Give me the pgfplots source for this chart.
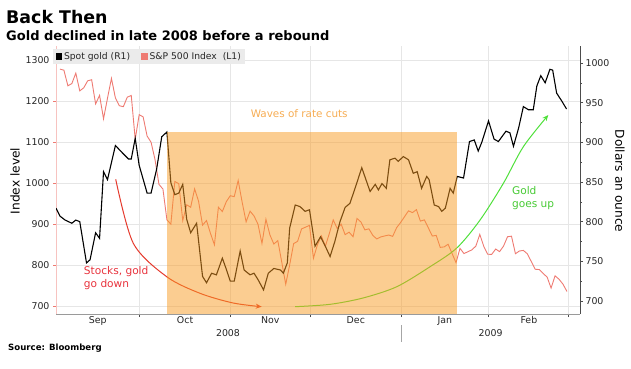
\documentclass[border=0pt]{standalone}
\usepackage{pgfplots}
\pgfplotsset{compat=1.18}
\usetikzlibrary{arrows.meta}
\usepackage{fontspec}
\setmainfont{DejaVu Sans}
\definecolor{spx}{HTML}{EE7A72}
\definecolor{boxor}{HTML}{F89B23}
\definecolor{wavetxt}{HTML}{F6AC52}
\definecolor{redtxt}{HTML}{E8323C}
\definecolor{redarr}{HTML}{E5392C}
\definecolor{grn}{HTML}{4FE03A}
\definecolor{gridc}{HTML}{E6E6E6}
\definecolor{axc}{HTML}{9A9A9A}

\pgfplotstableread{
x y
1 1277.58
2 1274.98
3 1236.83
4 1242.31
5 1267.79
6 1224.51
7 1232.04
8 1249.05
9 1251.70
10 1192.70
11 1213.60
12 1156.39
13 1206.51
14 1255.08
15 1207.09
16 1188.22
17 1185.87
18 1209.18
19 1213.27
20 1106.39
21 1166.36
22 1161.06
23 1114.28
24 1099.23
25 1056.89
26 996.23
27 984.94
28 909.92
29 899.22
30 1003.35
31 998.01
32 907.84
33 946.43
34 940.55
35 985.40
36 955.05
37 896.78
38 908.11
39 876.77
40 848.92
41 940.51
42 930.09
43 954.09
44 968.75
45 966.30
46 1005.75
47 952.77
48 904.88
49 930.99
50 919.21
51 898.95
52 852.30
53 911.29
54 873.29
55 850.75
56 859.12
57 806.58
58 752.44
59 800.03
60 851.81
61 857.39
62 887.68
64 896.24
65 816.21
66 848.81
67 870.74
68 845.22
69 876.07
70 909.70
71 888.67
72 899.24
73 873.59
74 879.73
75 868.57
76 913.18
77 904.42
78 885.28
79 887.88
80 871.63
81 863.16
82 868.15
84 872.80
85 869.42
86 890.64
87 903.25
89 931.80
90 927.45
91 934.70
92 906.65
93 909.73
94 890.35
95 870.26
96 871.79
97 842.62
98 843.74
99 850.12
101 805.22
102 840.24
103 827.50
104 831.95
105 836.57
106 845.71
107 874.09
108 845.14
109 825.88
110 825.44
111 838.51
112 832.23
113 845.85
114 868.60
115 869.89
116 827.16
117 833.74
118 835.19
119 826.84
121 789.17
122 788.42
123 778.94
124 770.05
125 743.33
126 773.14
127 764.90
128 752.83
129 735.09
}\spxtable

\pgfplotstableread{
x y
0 817
1 807
2.3 802
4 798
5 802
6 800
7.7 748
8.6 752
10 786
11 779
12 863
13 853
15 896
16.7 887
18.3 879
19 879
20 905
21 871
23 836
24 836
25.4 866
26.7 907
28 913
29 849
30 834
31 836
32 847
33 803
34 786
35.5 798
37 731
38 723
39.3 735
40.5 733
42 754
43 740
44 725
45 725
46.5 763
47.5 739
49 733
50 735
51 727
52.4 714
53.6 735
55 741
56.7 739
57.4 735
58.4 748
59 792
60.4 821
61.6 819
62.9 813
64 815
65.4 769
66.8 781
68 769
69.2 756
70.4 775
71.7 800
73 818
74.2 823
75.5 842
77.2 868
79.3 838
80.6 847
81.4 840
82.3 848
83.4 842
84.3 878
85.6 880
86.4 876
87.7 882
89 878
90.2 861
91.2 863
92.3 842
93.6 857
94.2 853
95.5 821
96.6 819
97.4 813
98.3 817
99.5 842
100.3 836
101.3 857
102.9 855
104.4 901
105.6 903
106.6 889
107.5 900
109.2 927
110.6 904
111.7 901
113.6 914
114.6 912
115.5 895
116.8 918
118 945
119.3 941
120.5 941
121.4 971
122.4 984
123.5 975
124.7 992
125.4 991
126.4 962
127.7 952
128.9 942
}\goldtable

\begin{document}
\begin{tikzpicture}[x=1pt,y=1pt]
\useasboundingbox (0,0) rectangle (631,368);
\node[anchor=base west,inner sep=0pt,font=\bfseries\fontsize{17.4}{20}\selectfont] at (6,344.5) {Back Then};
\node[anchor=base west,inner sep=0pt,font=\bfseries\fontsize{13}{15}\selectfont] at (6,327.5) {Gold declined in late 2008 before a rebound};
\node[anchor=base west,inner sep=0pt,font=\bfseries\fontsize{8.6}{10}\selectfont] at (8,18) {Source: Bloomberg};

% left axis: S&P 500
\begin{axis}[
  at={(56pt,54pt)}, anchor=south west, scale only axis,
  width=524pt, height=268pt,
  xmin=0, xmax=132.3, ymin=680, ymax=1334,
  axis x line*=bottom, axis y line*=left,
  x axis line style={axc},
  y axis line style={spx!45},
  ytick={700,800,...,1300},
  yticklabel style={font=\fontsize{9.4}{11}\selectfont, text=black!85},
  /pgf/number format/1000 sep={},
  /pgf/number format/assume math mode=true,
  xtick={21.04,43.9,64.3,87.1,109.1,129.3},
  xticklabels={},
  extra x ticks={10.56,32.6,54.1,75.7,98.2,119.4},
  extra x tick labels={Sep,Oct,Nov,Dec,Jan,Feb},
  extra x tick style={major tick length=0pt, grid=none,
     xticklabel style={font=\fontsize{9.4}{11}\selectfont, text=black!85, yshift=1pt}},
  xmajorgrids, ymajorgrids,
  grid style={gridc, line width=0.5pt},
  tick align=outside, major tick length=3pt,
  y tick style={spx, line width=0.5pt},
  x tick style={black!70, line width=0.5pt},
]
\addplot[spx, line width=0.9pt] table[x=x,y=y] {\spxtable};
\end{axis}

% right axis: spot gold
\begin{axis}[
  at={(56pt,54pt)}, anchor=south west, scale only axis,
  width=524pt, height=268pt,
  xmin=0, xmax=132.3, ymin=683.6, ymax=1021.4,
  axis x line=none, axis y line*=right,
  y axis line style={black!70, line width=0.6pt},
  ytick={700,750,...,1000}, minor y tick num=1,
  yticklabel style={font=\fontsize{9.4}{11}\selectfont, text=black!85, xshift=-1pt},
  /pgf/number format/1000 sep={},
  /pgf/number format/assume math mode=true,
  tick align=outside, major tick length=3pt, minor tick length=2pt,
  y tick style={black!70, line width=0.5pt},
  legend columns=2,
  legend style={at={(axis description cs:-0.006,0.988)}, anchor=north west,
     fill=black!8, draw=none, font=\fontsize{9.2}{10.5}\selectfont,
     text=black!85, inner xsep=2.5pt, inner ysep=1.2pt,
     /tikz/every even column/.append style={column sep=9pt}},
  legend image code/.code={\fill[#1,draw=none] (0pt,-3pt) rectangle (6.5pt,3.5pt);},
]
\addplot[black, line width=1.1pt] table[x=x,y=y] {\goldtable};
\addlegendentry{Spot gold (R1)}
\addlegendimage{spx}
\addlegendentry{S\&P 500 Index\ \ (L1)}

% annotation arrows (drawn below the shaded band)
\addplot[redarr, line width=1pt, smooth, -{Stealth[length=6pt,width=5pt]}, forget plot]
  coordinates {(15.08,853.4) (19.52,772.7) (27.95,730.6) (36.36,709.7) (44.7,697.5) (51.94,692.8)};
\addplot[grn, line width=1pt, smooth, -{Stealth[length=6pt,width=5pt]}, forget plot]
  coordinates {(60.35,692.8) (69.19,695.8) (77.53,703.8) (86.04,718.0) (94.44,743.2) (101.19,766.8) (107.07,802.1) (112.95,848.3) (118.0,894.5) (124.3,934.4)};

% shaded band: waves of rate cuts
\addplot[draw=none, fill=boxor, fill opacity=0.5, forget plot]
  coordinates {(27.95,683.6) (27.95,912.6) (101.26,912.6) (101.26,683.6)} -- cycle;

\node[text=wavetxt, font=\fontsize{10.4}{12}\selectfont] at (axis cs:61.4,935.7) {Waves of rate cuts};
\node[text=redtxt, font=\fontsize{10.6}{13.5}\selectfont, anchor=west, align=left, inner sep=0pt] at (axis cs:7.0,728.6) {Stocks, gold\\go down};
\node[text=grn!90!black, font=\fontsize{10.6}{13.5}\selectfont, anchor=west, align=left, inner sep=0pt] at (axis cs:115.1,829.8) {Gold\\goes up};
\end{axis}

% axis titles and year row
\node[rotate=90, font=\fontsize{12.2}{14}\selectfont] at (15,187) {Index level};
\node[rotate=-90, font=\fontsize{12.2}{14}\selectfont] at (620,187) {Dollars an ounce};
\node[font=\fontsize{9.4}{11}\selectfont, text=black!85] at (228,34.5) {2008};
\node[font=\fontsize{9.4}{11}\selectfont, text=black!85] at (490.7,34.5) {2009};
\draw[black!35, line width=0.5pt] (401,43) -- (401,26);
\end{tikzpicture}
\end{document}
